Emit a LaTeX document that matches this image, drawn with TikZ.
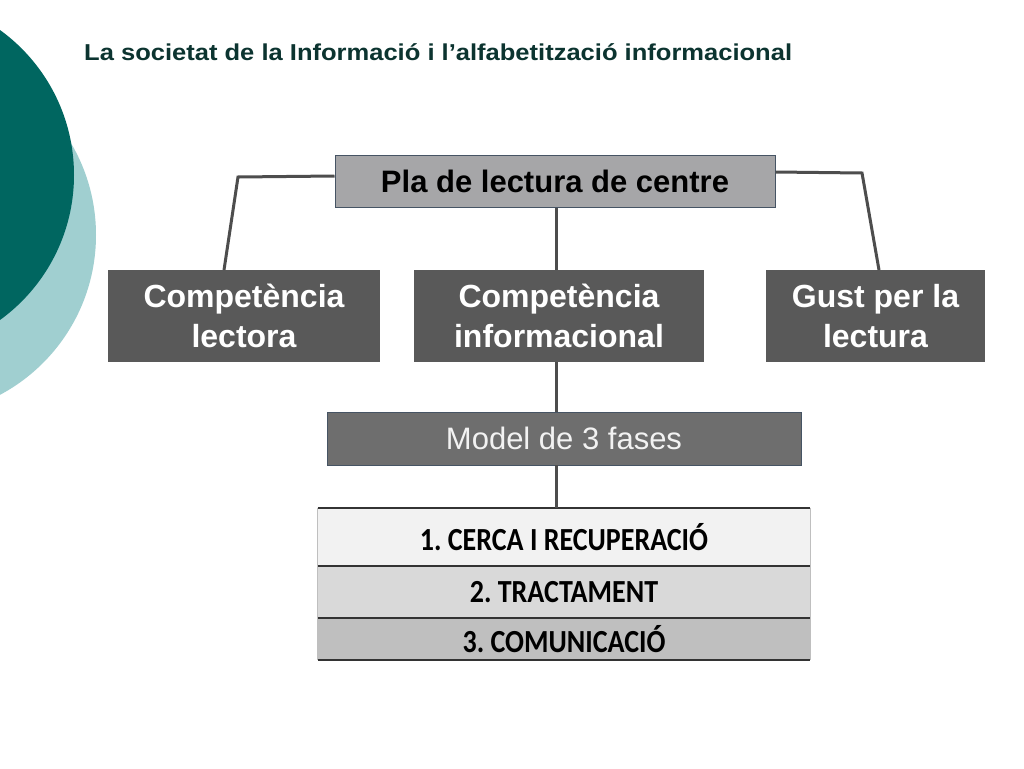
\documentclass[tikz,border=0pt]{standalone}
\usepackage{graphicx}
\usepackage{fontspec}
\setmainfont{Liberation Sans}
\newfontfamily\calib{Carlito}
\frenchspacing
\definecolor{tealdark}{RGB}{0,102,96}
\definecolor{teallight}{RGB}{160,207,208}
\definecolor{titlecol}{RGB}{12,52,48}
\definecolor{topfill}{RGB}{166,166,168}
\definecolor{boxborder}{RGB}{70,84,100}
\definecolor{darkfill}{RGB}{89,89,89}
\definecolor{modelfill}{RGB}{110,110,110}
\definecolor{linecol}{RGB}{77,77,77}
\definecolor{rowa}{RGB}{242,242,242}
\definecolor{rowb}{RGB}{217,217,217}
\definecolor{rowc}{RGB}{191,191,191}
\newcommand{\tall}[1]{\scalebox{1}[1.15]{#1}}
\tikzset{
  conn/.style={draw=linecol, line width=3pt},
  topbox/.style={draw=boxborder, line width=1pt, fill=topfill, minimum width=440pt, minimum height=52pt, inner sep=0pt, font=\fontsize{31}{36}\selectfont\bfseries},
  darkbox/.style={fill=darkfill, minimum height=92pt, inner sep=0pt, text=white, align=center, font=\fontsize{32}{40}\selectfont\bfseries},
  modelbox/.style={draw=boxborder, line width=1pt, fill=modelfill, minimum width=474pt, minimum height=53pt, inner sep=0pt, text=rowa, font=\fontsize{31}{36}\selectfont},
  row/.style={minimum width=492pt, inner sep=0pt, font=\calib\fontsize{28}{30}\selectfont\bfseries},
}
\begin{document}
\begin{tikzpicture}[x=1pt,y=-1pt]
\useasboundingbox (0,0) rectangle (1024,768);
\fill[white] (0,0) rectangle (1024,768);
% decorative circles
\begin{scope}
\clip (0,0) rectangle (1024,768);
\fill[teallight] (-85,235) circle (181);
\fill[tealdark] (-105,175) circle (179);
\end{scope}
% title
\node[anchor=base west, inner sep=0pt, text=titlecol, font=\fontsize{23}{26}\selectfont\bfseries] (title) at (84,60) {\scalebox{1.11}[1]{La societat de la Informació i l’alfabetització informacional}};
% boxes
\node[topbox] (pla) at (555,181) {Pla de lectura de centre};
\node[darkbox, minimum width=272pt] (lect) at (244,316) {Competència\\lectora};
\node[darkbox, minimum width=290pt] (info) at (559,316) {Competència\\informacional};
\node[darkbox, minimum width=219pt] (gust) at (875.5,316) {Gust per la\\lectura};
\node[modelbox] (model) at (564,438.5) {Model de 3 fases};
% table
\node[row, fill=rowa, minimum height=58pt] (r1) at (564,537) {\tall{1. CERCA I RECUPERACIÓ}};
\node[row, fill=rowb, minimum height=52pt] (r2) at (564,592) {\tall{2. TRACTAMENT}};
\node[row, fill=rowc, minimum height=42pt] (r3) at (564,639) {\tall{3. COMUNICACIÓ}};
\draw[rowc, line width=1pt] (r1.north west) -- (r3.south west);
\draw[rowc, line width=1pt] (r1.north east) -- (r3.south east);
\draw[black!80, line width=1.6pt] (r1.north west) -- (r1.north east);
\draw[black!80, line width=1.6pt] (r2.north west) -- (r2.north east);
\draw[black!80, line width=1.6pt] (r3.north west) -- (r3.north east);
\draw[black!80, line width=1.6pt] (r3.south west) -- (r3.south east);
% connectors
\coordinate (lk) at (238,177);
\coordinate (rk) at (862,173);
\draw[conn] (pla.west |- 0,176) -- (lk) -- (224,270);
\draw[conn] (pla.east |- 0,172) -- (rk) -- (879,270);
\draw[conn] (pla.south -| 556,0) -- (556,270);
\draw[conn] (556,362) -- (556,412);
\draw[conn] (556,465) -- (556,508);
\end{tikzpicture}
\end{document}
